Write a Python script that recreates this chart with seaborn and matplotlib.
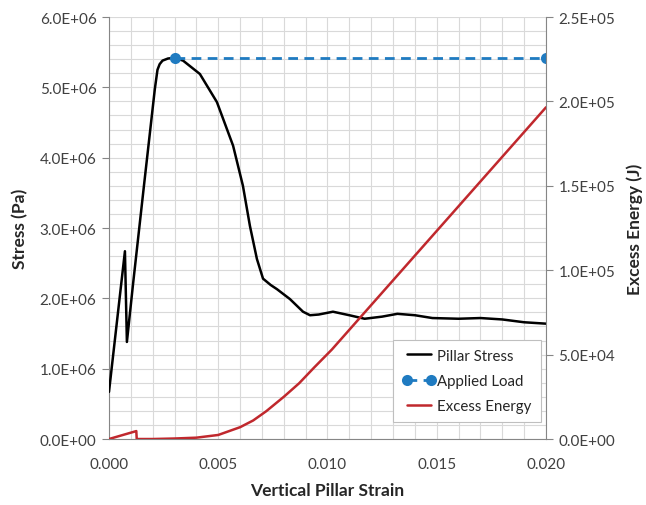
import numpy as np
import pandas as pd
import matplotlib
matplotlib.use("Agg")
import matplotlib.pyplot as plt
import seaborn as sns
from matplotlib.ticker import FuncFormatter, MultipleLocator
from matplotlib.lines import Line2D

# ---- data ----
stress_strain = [0.0, 0.00073, 0.00082, 0.0011, 0.0016, 0.0021, 0.00222, 0.00232, 0.00245,
                 0.0027, 0.003, 0.00339, 0.00416, 0.00494, 0.00568, 0.00613, 0.00645,
                 0.00677, 0.00705, 0.0074, 0.00769, 0.00828, 0.00888, 0.0092, 0.0096,
                 0.01025, 0.011, 0.0117, 0.0125, 0.0132, 0.014, 0.0148, 0.016, 0.017,
                 0.018, 0.019, 0.020]
stress_pa = [0.67e6, 2.67e6, 1.38e6, 2.2e6, 3.6e6, 4.98e6, 5.25e6, 5.33e6, 5.38e6,
             5.41e6, 5.42e6, 5.38e6, 5.19e6, 4.79e6, 4.17e6, 3.6e6, 3.03e6,
             2.56e6, 2.28e6, 2.19e6, 2.13e6, 1.99e6, 1.81e6, 1.76e6, 1.77e6,
             1.81e6, 1.76e6, 1.71e6, 1.74e6, 1.78e6, 1.76e6, 1.72e6, 1.71e6, 1.72e6,
             1.70e6, 1.66e6, 1.64e6]

load_strain = [0.003, 0.020]
load_pa = [5.42e6, 5.42e6]

energy_strain = [0.0, 0.00125, 0.00127, 0.002, 0.003, 0.004, 0.005, 0.006, 0.0066,
                 0.0072, 0.008, 0.0087, 0.0094, 0.0102, 0.020]
energy_j = [0.0, 4.7e3, 0.0, 0.0, 300.0, 800.0, 2.4e3, 7.0e3, 11.0e3,
            16.5e3, 25.0e3, 33.0e3, 42.5e3, 53.0e3, 196.5e3]

stress_df = pd.DataFrame({"strain": stress_strain, "stress": stress_pa})
load_df = pd.DataFrame({"strain": load_strain, "stress": load_pa})
energy_df = pd.DataFrame({"strain": energy_strain, "energy": energy_j})

# ---- style ----
sns.set_style("white")
plt.rcParams["font.family"] = ["Lato", "DejaVu Sans"]

black = "#000000"
blue = "#1f7bc1"
red = "#c0282d"
grid_c = "#d9d9d9"
axis_c = "#868686"

fig = plt.figure(figsize=(6.46, 5.06), dpi=100)
ax = fig.add_axes([0.1687, 0.1304, 0.6765, 0.834])
ax2 = ax.twinx()

sns.lineplot(data=stress_df, x="strain", y="stress", ax=ax, color=black, lw=1.8,
             sort=False, estimator=None, zorder=3)
sns.lineplot(data=load_df, x="strain", y="stress", ax=ax, color=blue, lw=2,
             marker="o", markersize=8, markeredgewidth=0, dashes=False,
             sort=False, estimator=None, zorder=4)
ax.lines[-1].set_dashes((3.5, 2.3))
sns.lineplot(data=energy_df, x="strain", y="energy", ax=ax2, color=red, lw=1.8,
             sort=False, estimator=None, zorder=3)

# axes limits / ticks
ax.set_xlim(0, 0.020)
ax.set_ylim(0, 6e6)
ax2.set_ylim(0, 2.5e5)
ax.xaxis.set_major_locator(MultipleLocator(0.005))
ax.xaxis.set_minor_locator(MultipleLocator(0.001))
ax.yaxis.set_major_locator(MultipleLocator(1e6))
ax.yaxis.set_minor_locator(MultipleLocator(2e5))
ax2.yaxis.set_major_locator(MultipleLocator(5e4))

sci = FuncFormatter(lambda v, p: f"{v:.1E}")
ax.yaxis.set_major_formatter(sci)
ax2.yaxis.set_major_formatter(sci)
ax.xaxis.set_major_formatter(FuncFormatter(lambda v, p: f"{v:.3f}"))

ax.grid(which="both", color=grid_c, lw=0.8)
ax.set_axisbelow(True)

for a in (ax, ax2):
    for s in a.spines.values():
        s.set_visible(False)
    a.tick_params(axis="both", which="major", labelsize=11, colors="#404040",
                  length=5, width=0.8, color=axis_c, direction="out")
    a.tick_params(which="minor", length=0)
ax.spines["left"].set_visible(True)
ax.spines["left"].set_color(axis_c)
ax.spines["bottom"].set_visible(True)
ax.spines["bottom"].set_color(axis_c)
ax2.spines["right"].set_visible(True)
ax2.spines["right"].set_color(axis_c)
ax.tick_params(axis="x", pad=8)
ax.tick_params(axis="y", pad=4)
ax2.tick_params(axis="y", pad=4)

ax.set_xlabel("Vertical Pillar Strain", fontsize=12.5, fontweight="bold", labelpad=8)
ax.set_ylabel("Stress (Pa)", fontsize=12.5, fontweight="bold", labelpad=8)
ax2.set_ylabel("Excess Energy (J)", fontsize=12.5, fontweight="bold", labelpad=8)

handles = [
    Line2D([], [], color=black, lw=1.8),
    Line2D([], [], color=blue, lw=2, ls=(0, (3.5, 2.3)), marker="o", markersize=8,
           markeredgewidth=0),
    Line2D([], [], color=red, lw=1.8),
]
labels = ["Pillar Stress", "Applied Load", "Excess Energy"]
leg = ax2.legend(handles, labels, loc="lower right", bbox_to_anchor=(1.005, 0.022),
                 fontsize=10.8, numpoints=2, handlelength=2.2, handletextpad=0.15,
                 labelspacing=0.75, borderpad=0.6, fancybox=False, framealpha=1)
leg.get_frame().set_edgecolor("#bfbfbf")
leg.get_frame().set_linewidth(0.8)

plt.savefig("out.png", dpi=100)
